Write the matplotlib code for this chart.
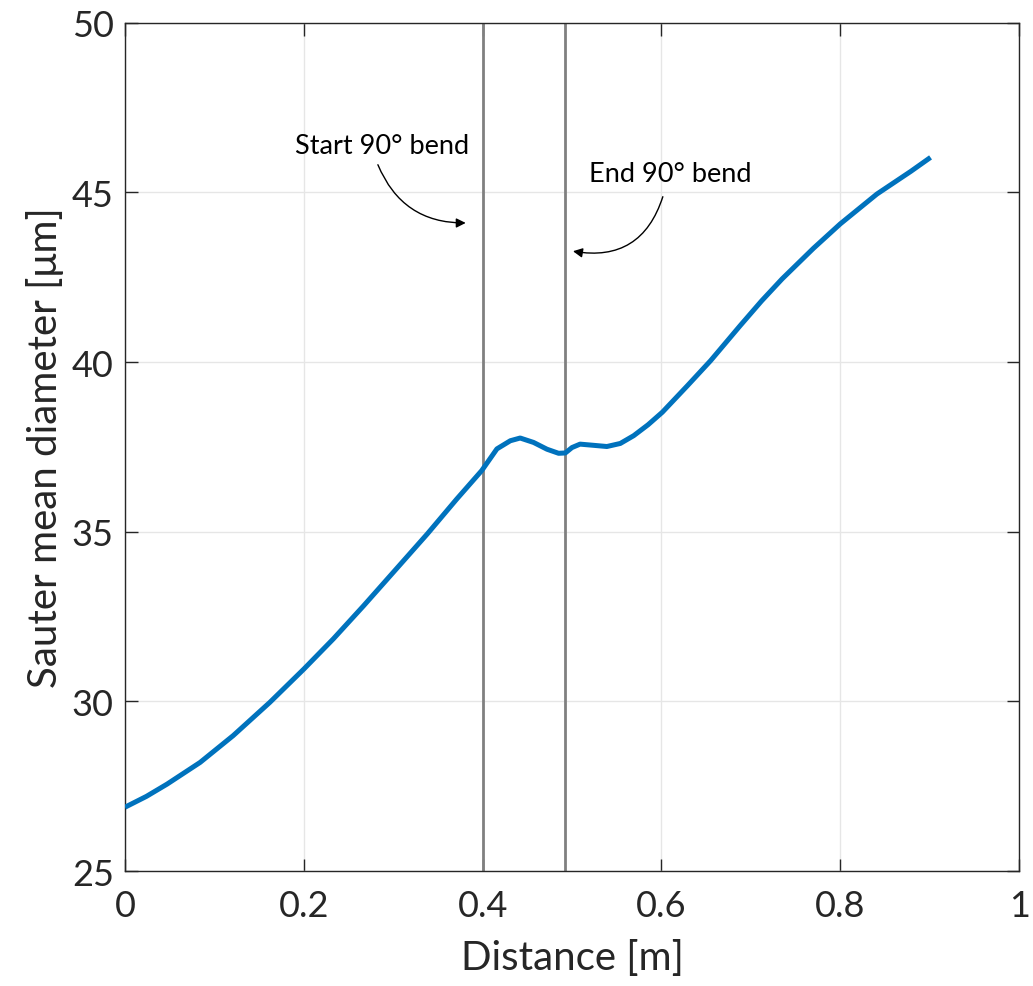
import numpy as np
import matplotlib
matplotlib.use('Agg')
import matplotlib.pyplot as plt

plt.rcParams['font.family'] = ['Lato', 'DejaVu Sans']

# Sauter mean diameter along the pipe
distance = [0.0, 0.024, 0.047, 0.084, 0.121, 0.162, 0.200, 0.233, 0.267, 0.300,
            0.338, 0.371, 0.399, 0.416, 0.431, 0.442, 0.457, 0.472, 0.485, 0.4925,
            0.500, 0.509, 0.522, 0.539, 0.554, 0.569, 0.585, 0.601, 0.629, 0.655,
            0.688, 0.712, 0.735, 0.770, 0.800, 0.841, 0.879, 0.901]
smd = [26.88, 27.20, 27.56, 28.20, 28.99, 29.97, 30.95, 31.84, 32.82, 33.80,
       34.93, 35.96, 36.80, 37.44, 37.68, 37.76, 37.63, 37.43, 37.31, 37.32,
       37.48, 37.58, 37.55, 37.51, 37.60, 37.83, 38.15, 38.52, 39.30, 40.04,
       41.07, 41.80, 42.45, 43.35, 44.07, 44.95, 45.62, 46.03]

bend_start = 0.40
bend_end = 0.4917

fig = plt.figure(figsize=(10.33, 9.87), dpi=100)
ax = fig.add_axes([0.121, 0.1165, 0.8655, 0.8595])

ax.plot(distance, smd, color='#0072BD', lw=3.6, solid_joinstyle='round',
        solid_capstyle='butt', zorder=3)
ax.axvline(bend_start, color='#808080', lw=2, zorder=2)
ax.axvline(bend_end, color='#808080', lw=2, zorder=2)

ax.annotate('', xy=(0.3842, 44.10), xytext=(0.2817, 45.89),
            arrowprops=dict(arrowstyle='-|>', color='black', lw=1,
                            connectionstyle='arc3,rad=0.35', mutation_scale=14))
ax.text(0.2877, 46.38, 'Start 90° bend', fontsize=19.5, ha='center', va='center')

ax.annotate('', xy=(0.498, 43.28), xytext=(0.6025, 44.95),
            arrowprops=dict(arrowstyle='-|>', color='black', lw=1,
                            connectionstyle='arc3,rad=-0.45', mutation_scale=14))
ax.text(0.61, 45.55, 'End 90° bend', fontsize=19.5, ha='center', va='center')

ax.set_xlim(0, 1)
ax.set_ylim(25, 50)
ax.set_xticks([0, 0.2, 0.4, 0.6, 0.8, 1])
ax.set_xticklabels(['0', '0.2', '0.4', '0.6', '0.8', '1'])
ax.set_yticks([25, 30, 35, 40, 45, 50])
ax.grid(True, color='#e6e6e6', lw=1)
ax.set_axisbelow(True)
ax.tick_params(direction='in', length=9, width=1, colors='#262626',
               labelsize=26, top=True, right=True, pad=8)
ax.tick_params(axis='x', pad=13)
for s in ax.spines.values():
    s.set_color('#262626')
    s.set_linewidth(1)

ax.set_xlabel('Distance [m]', fontsize=29, color='#262626', labelpad=12)
ax.set_ylabel('Sauter mean diameter [μm]', fontsize=29, color='#262626', labelpad=6)

fig.savefig('out.png', dpi=100)
